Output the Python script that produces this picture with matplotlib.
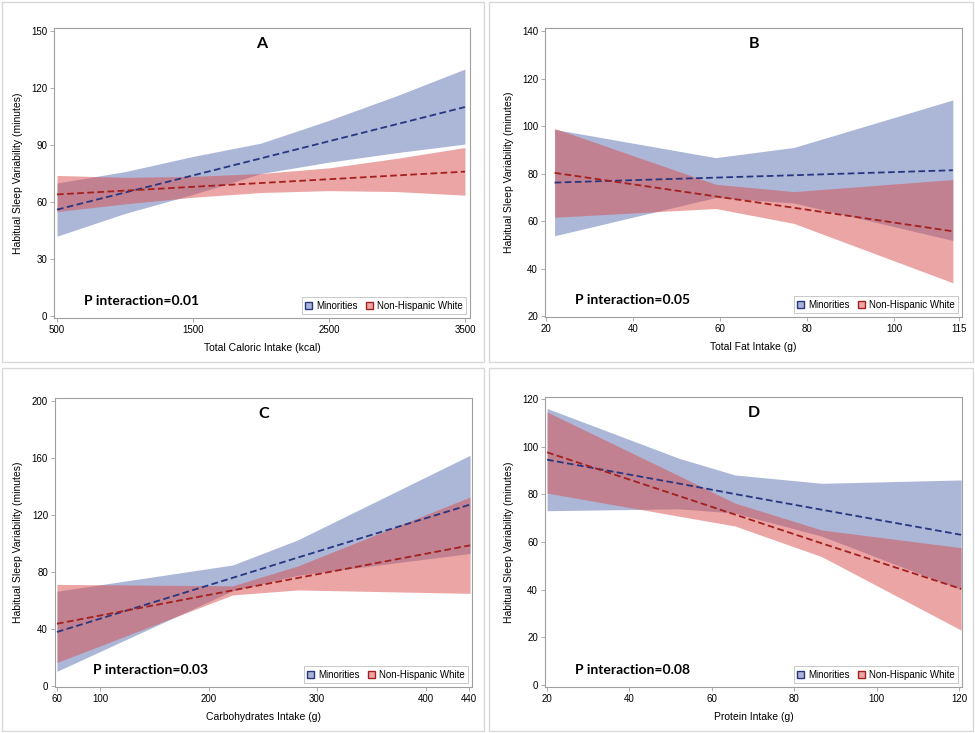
import matplotlib
matplotlib.use("Agg")
import matplotlib.pyplot as plt
from matplotlib.patches import Patch, Rectangle

# ---- data (knots of the fitted curves and 95% bands) ----
# Panel A: total caloric intake
a_x = [500, 1000, 1500, 2000, 2500, 3000, 3500]
a_min_fit = [56, 65, 74, 83, 92, 101, 110]
a_min_lo = [42, 54, 64, 75, 81, 86, 90.5]
a_min_hi = [70, 76, 84, 91, 103, 116, 130]
a_nhw_fit = [64, 66, 68, 70, 72, 74, 76]
a_nhw_lo = [55, 59, 62.5, 65, 66, 65.5, 63.6]
a_nhw_hi = [74, 73, 73.5, 75, 78, 83, 88.7]

# Panel B: total fat intake
b_x = [22, 59, 77, 113.5]
b_min_fit = [76.2, 78.3, 79.3, 81.4]
b_min_lo = [53.8, 69.9, 67.6, 51.8]
b_min_hi = [98.6, 86.7, 91.0, 111.0]
b_nhw_fit = [80.3, 70.4, 65.6, 55.7]
b_nhw_lo = [61.6, 65.3, 59.0, 34.0]
b_nhw_hi = [99.0, 75.5, 72.4, 77.5]

# Panel C: carbohydrates intake
c_x = [60, 222, 282, 441]
c_min_fit = [37.9, 75.9, 90.1, 127.3]
c_min_lo = [10.3, 66.9, 77.7, 93.0]
c_min_hi = [66.5, 84.9, 102.5, 161.9]
c_nhw_fit = [43.7, 67.1, 75.8, 98.7]
c_nhw_lo = [16.5, 63.9, 67.4, 65.0]
c_nhw_hi = [71.3, 70.3, 84.2, 132.6]

# Panel D: protein intake
d_x = [20, 52, 65.6, 86.7, 120.5]
d_min_fit = [94.5, 84.5, 80.1, 73.5, 63.0]
d_min_lo = [73.1, 73.9, 72.1, 62.4, 40.0]
d_min_hi = [116.0, 95.1, 88.1, 84.6, 86.0]
d_nhw_fit = [97.6, 79.3, 71.5, 59.4, 40.3]
d_nhw_lo = [80.5, 70.8, 66.7, 53.8, 23.0]
d_nhw_hi = [114.5, 87.8, 76.3, 65.0, 57.6]

panel_letters = ["A", "B", "C", "D"]
p_labels = ["P interaction=0.01", "P interaction=0.05", "P interaction=0.03", "P interaction=0.08"]
x_titles = ["Total Caloric Intake (kcal)", "Total Fat Intake (g)",
            "Carbohydrates Intake (g)", "Protein Intake (g)"]
y_title = "Habitual Sleep Variability (minutes)"
x_ticks = [[500, 1500, 2500, 3500], [20, 40, 60, 80, 100, 115],
           [60, 100, 200, 300, 400, 440], [20, 40, 60, 80, 100, 120]]
y_ticks = [[0, 30, 60, 90, 120, 150], [20, 40, 60, 80, 100, 120, 140],
           [0, 40, 80, 120, 160, 200], [0, 20, 40, 60, 80, 100, 120]]
group_names = ["Minorities", "Non-Hispanic White"]

panels = [
    (a_x, a_min_fit, a_min_lo, a_min_hi, a_nhw_fit, a_nhw_lo, a_nhw_hi),
    (b_x, b_min_fit, b_min_lo, b_min_hi, b_nhw_fit, b_nhw_lo, b_nhw_hi),
    (c_x, c_min_fit, c_min_lo, c_min_hi, c_nhw_fit, c_nhw_lo, c_nhw_hi),
    (d_x, d_min_fit, d_min_lo, d_min_hi, d_nhw_fit, d_nhw_lo, d_nhw_hi),
]

# ---- layout ----
W, H = 975, 733
axes_px = [(54, 28, 470, 318), (545, 28, 962, 317),
           (55, 398, 472, 687), (545, 397, 962, 687)]
xlims = [(478, 3537), (19.8, 115.6), (58.2, 442.8), (19.5, 120.7)]
ylims = [(-1.05, 151.6), (19.6, 141.3), (-0.7, 202.1), (-0.84, 120.8)]
boxes_px = [(2, 2, 484, 362), (489, 2, 973, 362), (2, 368, 484, 731), (489, 368, 973, 731)]

blue_fill = "#5a6fb0"
red_fill = "#d94d4d"
blue_line = "#27367f"
red_line = "#a3201e"
frame_gray = "#a0a0a0"

plt.rcParams["font.family"] = ["Liberation Sans", "DejaVu Sans"]

fig = plt.figure(figsize=(W / 100, H / 100), dpi=100)

# light gray frames around each panel
for (l, t, r, b) in boxes_px:
    fig.patches.append(Rectangle((l / W, 1 - b / H), (r - l) / W, (b - t) / H,
                                 transform=fig.transFigure, fill=False,
                                 edgecolor="#d8d8d8", linewidth=1.0))

for i, (x, mf, ml, mh, nf, nl, nh) in enumerate(panels):
    l, t, r, b = axes_px[i]
    ax = fig.add_axes([l / W, 1 - b / H, (r - l) / W, (b - t) / H])

    ax.fill_between(x, ml, mh, color=blue_fill, alpha=0.5, linewidth=0)
    ax.fill_between(x, nl, nh, color=red_fill, alpha=0.5, linewidth=0)
    ax.plot(x, mf, color=blue_line, lw=1.3, linestyle=(0, (3.7, 1.9)))
    ax.plot(x, nf, color=red_line, lw=1.3, linestyle=(0, (3.7, 1.9)))

    ax.set_xlim(*xlims[i])
    ax.set_ylim(*ylims[i])
    ax.set_xticks(x_ticks[i])
    ax.set_yticks(y_ticks[i])
    ax.tick_params(labelsize=7, length=3, width=0.6, color=frame_gray, pad=2)
    for s in ax.spines.values():
        s.set_color(frame_gray)
        s.set_linewidth(0.8)

    ax.set_xlabel(x_titles[i], fontsize=7.5, labelpad=6)
    ax.set_ylabel(y_title, fontsize=7.5, labelpad=6)

    ax.text(0.5, 0.945, panel_letters[i], transform=ax.transAxes, ha="center",
            va="center", fontsize=11.5, fontweight="bold", family="Lato")
    ax.text(0.072 if i != 2 else 0.09, 0.06, p_labels[i], transform=ax.transAxes,
            ha="left", va="center", fontsize=10, fontweight="bold", family="Lato")

    handles = [Patch(facecolor="#aab4d6", edgecolor=blue_line, linewidth=1.0),
               Patch(facecolor="#eca6a6", edgecolor=red_line, linewidth=1.0)]
    leg = ax.legend(handles, group_names, loc="lower right", ncol=2, fontsize=7,
                    frameon=True, fancybox=False, handlelength=0.7, handleheight=0.7,
                    handletextpad=0.4, columnspacing=0.9, borderpad=0.35,
                    borderaxespad=0.4)
    leg.get_frame().set_edgecolor("#b0b0b0")
    leg.get_frame().set_linewidth(0.6)

fig.savefig("out.png", dpi=100)
